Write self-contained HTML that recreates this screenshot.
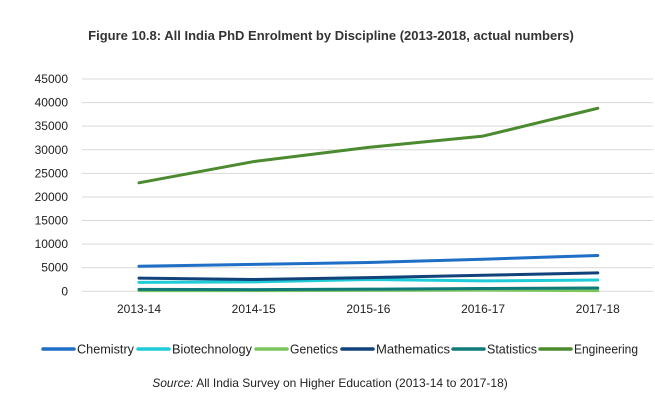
<!DOCTYPE html>
<html><head><meta charset="utf-8"><style>
body{margin:0;background:#fff;font-family:"Liberation Sans",sans-serif;}
svg text{font-family:"Liberation Sans",sans-serif;fill:#222;}
</style></head><body>
<svg width="655" height="402" id="c">
<text x="331" y="40" text-anchor="middle" font-size="13" font-weight="bold" style="fill:#333">Figure 10.8: All India PhD Enrolment by Discipline (2013-2018, actual numbers)</text>
<g id="grid"></g><g id="lines"></g><g id="legend"></g>
<text x="330" y="387" text-anchor="middle" font-size="12"><tspan font-style="italic">Source:</tspan> All India Survey on Higher Education (2013-14 to 2017-18)</text>
</svg>
<script>
const categories=["2013-14","2014-15","2015-16","2016-17","2017-18"];
const yTicks=[0,5000,10000,15000,20000,25000,30000,35000,40000,45000];
const seriesNames=["Chemistry","Biotechnology","Genetics","Mathematics","Statistics","Engineering"];
const seriesColors=["#1f6fc6","#1fcbd6","#7ac55c","#12427a","#117a7a","#4b8a2e"];
const chemistry=[5300,5700,6100,6800,7600];
const biotechnology=[1900,2000,2500,2200,2400];
const genetics=[150,150,200,250,150];
const mathematics=[2800,2500,2900,3400,3900];
const statistics=[400,350,450,600,700];
const engineering=[23000,27500,30500,32900,38800];
const seriesValues=[chemistry,biotechnology,genetics,mathematics,statistics,engineering];
const NS="http://www.w3.org/2000/svg";
const y0=291.3,yTop=79,yMax=45000;
function yScale(v){return y0-(v/yMax)*(y0-yTop);}
function xScale(i){return 139+i*114.7;}
function mk(t,a,p){const e=document.createElementNS(NS,t);for(const k in a)e.setAttribute(k,a[k]);p.appendChild(e);return e;}
const grid=document.getElementById('grid');
yTicks.forEach(v=>{
 const l=mk('line',{x1:82,x2:653,y1:yScale(v),y2:yScale(v),stroke:'#d9d9d9','stroke-width':1},grid);
 
 
 const t=mk('text',{x:68,y:yScale(v)+4,'text-anchor':'end','font-size':12},grid);
 t.textContent=v;
 
 
});
categories.forEach((c,i)=>{
 const t=mk('text',{x:xScale(i),y:313,'text-anchor':'middle','font-size':12},grid);
 t.textContent=c;
 
 
});
const lines=document.getElementById('lines');
[2,4,1,3,0,5].forEach(s=>{
 const pts=seriesValues[s].map((v,i)=>xScale(i)+','+yScale(v)).join(' ');
 const p=mk('polyline',{points:pts,fill:'none',stroke:seriesColors[s],'stroke-width':3,'stroke-linecap':'round','stroke-linejoin':'round'},lines);
 
 
});
const lg=document.getElementById('legend');
const legendX=[43,138,256,342,453,540];
const legendTextW=[57,80,48,74,50,64];
seriesNames.forEach((n,s)=>{
 const x=legendX[s];
 const g=mk('g',{},lg);
 
 
 mk('line',{x1:x,x2:x+31,y1:349,y2:349,stroke:seriesColors[s],'stroke-width':3.5,'stroke-linecap':'round'},g);
 const t=mk('text',{x:x+34,y:353.5,'font-size':12.5,textLength:legendTextW[s],lengthAdjust:'spacingAndGlyphs'},g);
 t.textContent=n;
});
</script>
</body></html>
